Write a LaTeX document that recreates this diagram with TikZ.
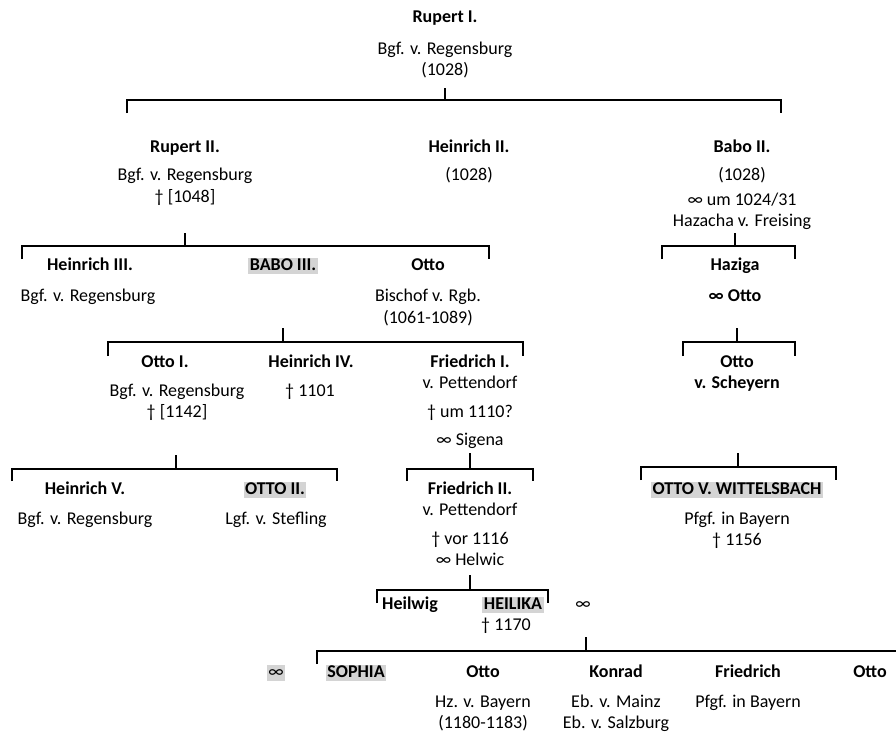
\documentclass[tikz,border=0pt]{standalone}
\usepackage{fontspec}
\setmainfont{Carlito}
\tikzset{
  every node/.style={font=\fontsize{18}{21}\selectfont, inner sep=0pt, text height=12.5pt, text depth=3.5pt},
  nm/.style={font=\fontsize{18}{21}\selectfont\bfseries},
  hl/.style={fill=black!17, inner xsep=1.5pt, inner ysep=0pt},
  conn/.style={line width=1.5pt, line join=miter},
}
\newcommand\fbracket[7]{% name, tick x, tick top y, bar y, left x, right x, end y
  \coordinate (#1-t) at (#2,#3);
  \coordinate (#1-m) at (#2,#4);
  \coordinate (#1-la) at (#5,#7);
  \coordinate (#1-lb) at (#5,#4);
  \coordinate (#1-ra) at (#6,#4);
  \coordinate (#1-rb) at (#6,#7);
  \draw[conn] (#1-t) -- (#1-m);
  \draw[conn] (#1-la) -- (#1-lb) -- (#1-ra) -- (#1-rb);
}
\begin{document}
\begin{tikzpicture}[x=1pt,y=-1pt]
\useasboundingbox (0,0) rectangle (896,736);
% generation 1
\node[nm] (rup1) at (445,18) {Rupert I.};
\node (rup1a) at (445,50) {Bgf. v. Regensburg};
\node (rup1b) at (445,71) {(1028)};
\fbracket{b1}{445}{88}{100}{127}{781}{113}
% generation 2
\node[nm] (rup2) at (185,148) {Rupert II.};
\node (rup2a) at (185,176) {Bgf. v. Regensburg};
\node (rup2b) at (185,198) {† [1048]};
\node[nm] (hei2) at (469,148) {Heinrich II.};
\node (hei2a) at (469,176) {(1028)};
\node[nm] (babo2) at (742,148) {Babo II.};
\node (babo2a) at (742,176) {(1028)};
\node (babo2b) at (742,201) {∞ um 1024/31};
\node (babo2c) at (742,222) {Hazacha v. Freising};
\fbracket{b2}{185}{233}{246}{22}{489}{259}
\fbracket{b3}{735}{233}{246}{662}{795}{259}
% generation 3
\node[nm] (hei3) at (90,266) {Heinrich III.};
\node (hei3a) at (88,297) {Bgf. v. Regensburg};
\node[nm,hl] (babo3) at (283,266) {BABO III.};
\node[nm] (otto3) at (428,266) {Otto};
\node (otto3a) at (428,297) {Bischof v. Rgb.};
\node (otto3b) at (428,319) {(1061-1089)};
\node[nm] (haz) at (735,266) {Haziga};
\node[nm] (haza) at (735,297) {∞ Otto};
\fbracket{b4}{283}{328}{342}{108}{523}{356}
\fbracket{b5}{737}{328}{342}{683}{795}{356}
% generation 4
\node[nm] (otto1) at (165,363) {Otto I.};
\node (otto1a) at (177,392) {Bgf. v. Regensburg};
\node (otto1b) at (177,413) {† [1142]};
\node[nm] (hei4) at (311,363) {Heinrich IV.};
\node (hei4a) at (310,392) {† 1101};
\node[nm] (fri1) at (470,363) {Friedrich I.};
\node (fri1a) at (470,384) {v. Pettendorf};
\node (fri1b) at (470,413) {† um 1110?};
\node (fri1c) at (470,441) {∞ Sigena};
\node[nm] (ottos) at (737,363) {Otto};
\node[nm] (ottosa) at (737,384) {v. Scheyern};
\fbracket{b6}{176}{455}{469}{12}{337}{481}
\fbracket{b7}{470}{453}{469}{407}{533}{481}
\fbracket{b8}{738}{453}{467}{641}{836}{480}
% generation 5
\node[nm] (hei5) at (85,490) {Heinrich V.};
\node (hei5a) at (85,520) {Bgf. v. Regensburg};
\node[nm,hl] (otto2) at (275,490) {OTTO II.};
\node (otto2a) at (276,520) {Lgf. v. Stefling};
\node[nm] (fri2) at (470,490) {Friedrich II.};
\node (fri2a) at (470,511) {v. Pettendorf};
\node (fri2b) at (470,540) {† vor 1116};
\node (fri2c) at (470,561) {∞ Helwic};
\node[nm,hl] (ottow) at (737,490) {OTTO V. WITTELSBACH};
\node (ottowa) at (737,520) {Pfgf. in Bayern};
\node (ottowb) at (737,541) {† 1156};
\fbracket{b9}{470}{575}{590}{377}{548}{603}
% generation 6
\node[nm] (heilw) at (410,605) {Heilwig};
\node[nm,hl] (heil) at (513,605) {HEILIKA};
\node (heila) at (506,626) {† 1170};
\node (mar) at (583,605) {∞};
% bottom bracket
\coordinate (b10-t) at (586,637);
\coordinate (b10-m) at (586,651);
\coordinate (b10-la) at (317,664);
\coordinate (b10-lb) at (317,651);
\coordinate (b10-r) at (896,651);
\draw[conn] (b10-t) -- (b10-m);
\draw[conn] (b10-la) -- (b10-lb) -- (b10-r);
% generation 7
\node[hl] (mar2) at (276,673) {∞};
\node[nm,hl] (soph) at (356,673) {SOPHIA};
\node[nm] (otto7) at (483,673) {Otto};
\node (otto7a) at (483,703) {Hz. v. Bayern};
\node (otto7b) at (483,724) {(1180-1183)};
\node[nm] (konr) at (616,673) {Konrad};
\node (konra) at (616,703) {Eb. v. Mainz};
\node (konrb) at (616,724) {Eb. v. Salzburg};
\node[nm] (frie) at (748,673) {Friedrich};
\node (friea) at (748,703) {Pfgf. in Bayern};
\node[nm] (otto8) at (870,673) {Otto};
\end{tikzpicture}
\end{document}
